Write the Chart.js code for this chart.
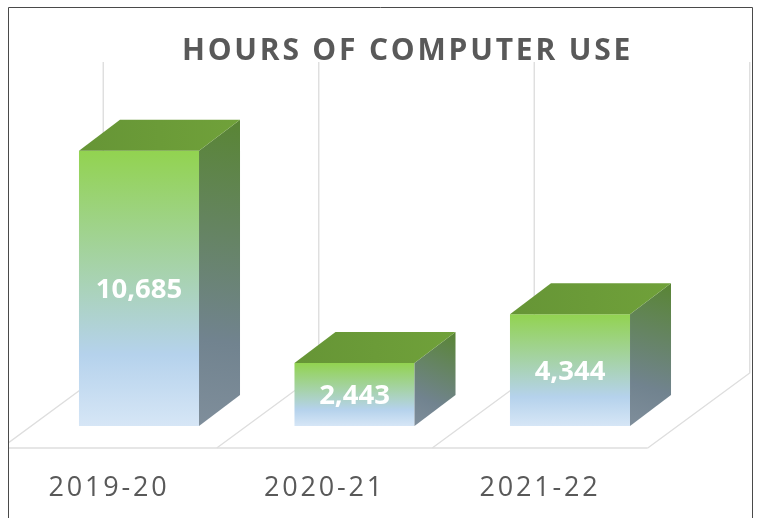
<!DOCTYPE html>
<html>
<head>
<meta charset="utf-8">
<title>Hours of computer use</title>
<script src="https://cdn.jsdelivr.net/npm/chart.js@4"></script>
<style>
  html, body { margin: 0; padding: 0; background: #fff; }
  canvas { display: block; filter: blur(0.45px); }
</style>
</head>
<body>
<canvas id="graficoHoras" width="757" height="518"></canvas>
<script>
const categorias = ["2019-20", "2020-21", "2021-22"];
const horas = [10685, 2443, 4344];
const tituloGrafico = "HOURS OF COMPUTER USE";

// desplazamiento de la cara trasera de cada barra
const fondoX = 41;
const fondoY = 31;

function degradadoFrente(context) {
    const { chart, parsed } = context;
    if (!parsed) return "#92d350";
    const y = chart.scales.y;
    const arriba = y.getPixelForValue(parsed.y);
    const abajo = y.getPixelForValue(0);
    // la escala aun no tiene medidas en la primera pasada
    if (!isFinite(arriba) || !isFinite(abajo)) return "#92d350";
    const g = chart.ctx.createLinearGradient(0, arriba, 0, abajo);
    g.addColorStop(0, "#92d350");
    g.addColorStop(0.74, "#b5d2ec");
    g.addColorStop(1, "#d6e6f6");
    return g;
}

const barras3d = {
    id: "barras3d",
    beforeDraw(chart) {
        const ctx = chart.ctx;
        ctx.letterSpacing = "2.8px";

        // marco
        ctx.save();
        ctx.strokeStyle = "#4a4a4a";
        ctx.lineWidth = 1;
        ctx.beginPath();
        ctx.moveTo(8.5, 518);
        ctx.lineTo(8.5, 7.5);
        ctx.lineTo(752.5, 7.5);
        ctx.lineTo(752.5, 518);
        ctx.stroke();
        ctx.restore();
    },
    afterLayout(chart) {
        // el titulo va corrido a la derecha del centro
        chart.titleBlock.left += 106;
    },
    beforeDatasetsDraw(chart) {
        const ctx = chart.ctx;
        const { x, y } = chart.scales;
        const paso = x.getPixelForValue(1) - x.getPixelForValue(0);
        const yFrente = y.bottom + 22;
        const yFondo = y.bottom - 53;

        ctx.save();
        ctx.beginPath();
        ctx.rect(9, 8, 743, 510);
        ctx.clip();
        ctx.strokeStyle = "#dedede";
        ctx.lineWidth = 1.4;
        for (let i = 0; i <= categorias.length; i++) {
            const borde = x.getPixelForValue(0) - paso / 2 + i * paso;
            ctx.beginPath();
            ctx.moveTo(borde + 72, y.top - 55);
            ctx.lineTo(borde + 72, yFondo);
            ctx.lineTo(borde - 30, yFrente);
            ctx.stroke();
        }
        ctx.beginPath();
        ctx.moveTo(0, yFrente);
        ctx.lineTo(x.getPixelForValue(categorias.length - 1) + paso / 2 - 30, yFrente);
        ctx.stroke();
        ctx.restore();
    },
    afterDatasetsDraw(chart) {
        const ctx = chart.ctx;
        chart.getDatasetMeta(0).data.forEach((bar, i) => {
            const izq = bar.x - bar.width / 2;
            const der = bar.x + bar.width / 2;

            // cara lateral
            const lado = ctx.createLinearGradient(der + fondoX, bar.y - fondoY, der, bar.base);
            lado.addColorStop(0, "#598534");
            lado.addColorStop(0.72, "#71838f");
            lado.addColorStop(1, "#7f8e9b");
            ctx.fillStyle = lado;
            ctx.beginPath();
            ctx.moveTo(der, bar.y);
            ctx.lineTo(der + fondoX, bar.y - fondoY);
            ctx.lineTo(der + fondoX, bar.base - fondoY);
            ctx.lineTo(der, bar.base);
            ctx.closePath();
            ctx.fill();

            // cara superior
            const tapa = ctx.createLinearGradient(izq, 0, der + fondoX, 0);
            tapa.addColorStop(0, "#669536");
            tapa.addColorStop(1, "#70a13a");
            ctx.fillStyle = tapa;
            ctx.beginPath();
            ctx.moveTo(izq, bar.y);
            ctx.lineTo(izq + fondoX, bar.y - fondoY);
            ctx.lineTo(der + fondoX, bar.y - fondoY);
            ctx.lineTo(der, bar.y);
            ctx.closePath();
            ctx.fill();

            // valor sobre la cara frontal
            ctx.save();
            ctx.letterSpacing = "0px";
            ctx.fillStyle = "#ffffff";
            ctx.font = "bold 27.5px 'Open Sans'";
            ctx.textAlign = "center";
            ctx.textBaseline = "middle";
            ctx.fillText(horas[i].toLocaleString("en-US"), bar.x, (bar.y + bar.base) / 2 + 2);
            ctx.restore();
        });
    }
};

new Chart(document.getElementById("graficoHoras"), {
    type: "bar",
    data: {
        labels: categorias,
        datasets: [{
            label: "Hours",
            data: horas,
            backgroundColor: degradadoFrente,
            borderWidth: 0,
            barPercentage: 0.557,
            categoryPercentage: 1
        }]
    },
    options: {
        responsive: false,
        animation: false,
        layout: { padding: { left: 31.25, right: 79.25, top: 0, bottom: 0 } },
        plugins: {
            legend: { display: false },
            tooltip: { enabled: false },
            title: {
                display: true,
                text: tituloGrafico,
                color: "#595959",
                font: { family: "'Open Sans'", size: 30, weight: "bold", lineHeight: 1.2 },
                padding: { top: 33, bottom: 48 }
            }
        },
        scales: {
            x: {
                afterFit(scale) { scale.height = 92; },
                grid: { display: false, drawTicks: false },
                border: { display: false },
                ticks: {
                    color: "#595959",
                    font: { family: "'Open Sans'", size: 27, lineHeight: 1.2 },
                    padding: 46,
                    labelOffset: -30,
                    maxRotation: 0
                }
            },
            y: {
                display: false,
                min: 0,
                max: 12000
            }
        }
    },
    plugins: [barras3d]
});
</script>
</body>
</html>
